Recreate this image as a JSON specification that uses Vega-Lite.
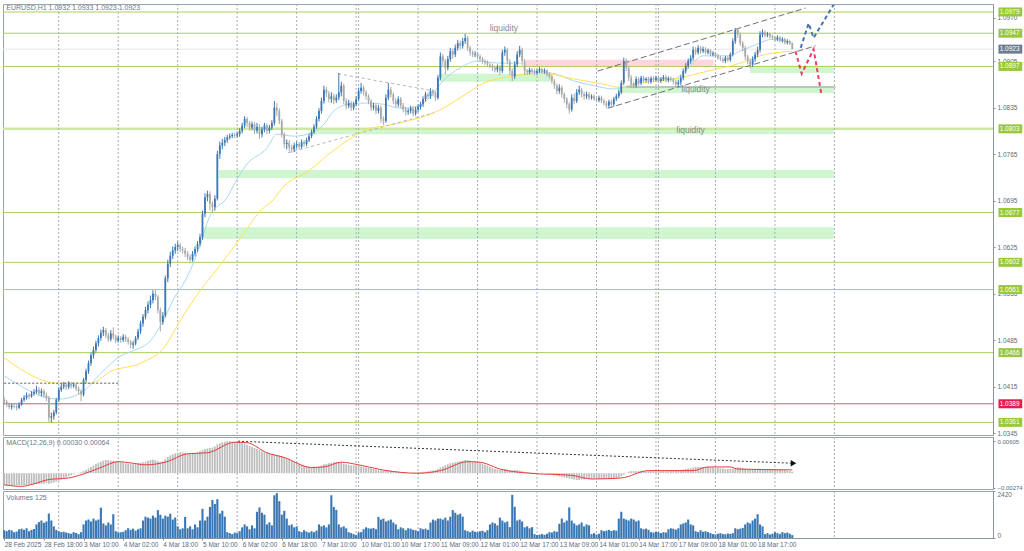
{
"$schema":"https://vega.github.io/schema/vega-lite/v6.json",
"padding":{"left":1,"top":0,"right":0,"bottom":0},
"background":"white",
"spacing":2,
"bounds":"flush",
"config":{"scale":{"continuousPadding":0},"view":{"stroke":"#9aa4ae","strokeWidth":1},"axis":{"labelFont":"Liberation Sans","labelFontSize":6.5,"labelColor":"#5b6b7c","domainColor":"#8a949e","tickColor":"#8a949e","tickSize":2,"grid":false,"labelPadding":2},"text":{"font":"Liberation Sans"}},
"datasets":{
"bars":[
{"i":0,"o":1.0395,"h":1.0399,"l":1.0388,"c":1.0392,"v":400,"m":-0.0023},
{"i":1,"o":1.0392,"h":1.0395,"l":1.0384,"c":1.0388,"v":350,"m":-0.0023},
{"i":2,"o":1.0388,"h":1.0391,"l":1.0381,"c":1.0384,"v":420,"m":-0.0023},
{"i":3,"o":1.0384,"h":1.0389,"l":1.0380,"c":1.0386,"v":380,"m":-0.0023},
{"i":4,"o":1.0386,"h":1.0390,"l":1.0382,"c":1.0385,"v":300,"m":-0.0023},
{"i":5,"o":1.0385,"h":1.0388,"l":1.0379,"c":1.0383,"v":330,"m":-0.0023},
{"i":6,"o":1.0383,"h":1.0391,"l":1.0381,"c":1.0388,"v":450,"m":-0.0023},
{"i":7,"o":1.0388,"h":1.0398,"l":1.0386,"c":1.0395,"v":480,"m":-0.0023},
{"i":8,"o":1.0395,"h":1.0402,"l":1.0392,"c":1.0398,"v":420,"m":-0.0023},
{"i":9,"o":1.0398,"h":1.0406,"l":1.0395,"c":1.0402,"v":500,"m":-0.0023},
{"i":10,"o":1.0402,"h":1.0405,"l":1.0396,"c":1.0400,"v":350,"m":-0.0022},
{"i":11,"o":1.0400,"h":1.0408,"l":1.0398,"c":1.0404,"v":420,"m":-0.0022},
{"i":12,"o":1.0404,"h":1.0411,"l":1.0401,"c":1.0407,"v":460,"m":-0.0021},
{"i":13,"o":1.0407,"h":1.0416,"l":1.0404,"c":1.0410,"v":700,"m":-0.0021},
{"i":14,"o":1.0410,"h":1.0414,"l":1.0401,"c":1.0405,"v":820,"m":-0.0020},
{"i":15,"o":1.0405,"h":1.0412,"l":1.0400,"c":1.0408,"v":900,"m":-0.0020},
{"i":16,"o":1.0408,"h":1.0411,"l":1.0398,"c":1.0402,"v":780,"m":-0.0020},
{"i":17,"o":1.0402,"h":1.0406,"l":1.0393,"c":1.0398,"v":850,"m":-0.0019},
{"i":18,"o":1.0398,"h":1.0401,"l":1.0362,"c":1.0368,"v":1260,"m":-0.0020},
{"i":19,"o":1.0368,"h":1.0376,"l":1.0361,"c":1.0370,"v":900,"m":-0.0019},
{"i":20,"o":1.0370,"h":1.0380,"l":1.0365,"c":1.0376,"v":600,"m":-0.0018},
{"i":21,"o":1.0376,"h":1.0398,"l":1.0373,"c":1.0395,"v":420,"m":-0.0016},
{"i":22,"o":1.0395,"h":1.0414,"l":1.0392,"c":1.0410,"v":350,"m":-0.0014},
{"i":23,"o":1.0410,"h":1.0419,"l":1.0407,"c":1.0415,"v":300,"m":-0.0012},
{"i":24,"o":1.0415,"h":1.0422,"l":1.0411,"c":1.0418,"v":320,"m":-0.0010},
{"i":25,"o":1.0418,"h":1.0421,"l":1.0410,"c":1.0414,"v":280,"m":-0.0008},
{"i":26,"o":1.0414,"h":1.0423,"l":1.0411,"c":1.0419,"v":250,"m":-0.0006},
{"i":27,"o":1.0419,"h":1.0422,"l":1.0412,"c":1.0416,"v":220,"m":-0.0004},
{"i":28,"o":1.0416,"h":1.0421,"l":1.0413,"c":1.0418,"v":300,"m":-0.0002},
{"i":29,"o":1.0418,"h":1.0420,"l":1.0408,"c":1.0412,"v":260,"m":0.0000},
{"i":30,"o":1.0412,"h":1.0415,"l":1.0403,"c":1.0408,"v":200,"m":0.0001},
{"i":31,"o":1.0408,"h":1.0411,"l":1.0393,"c":1.0403,"v":300,"m":0.0002},
{"i":32,"o":1.0403,"h":1.0428,"l":1.0400,"c":1.0425,"v":700,"m":0.0004},
{"i":33,"o":1.0425,"h":1.0442,"l":1.0421,"c":1.0438,"v":900,"m":0.0006},
{"i":34,"o":1.0438,"h":1.0454,"l":1.0434,"c":1.0450,"v":950,"m":0.0009},
{"i":35,"o":1.0450,"h":1.0466,"l":1.0446,"c":1.0462,"v":850,"m":0.0012},
{"i":36,"o":1.0462,"h":1.0475,"l":1.0457,"c":1.0470,"v":1000,"m":0.0015},
{"i":37,"o":1.0470,"h":1.0484,"l":1.0466,"c":1.0480,"v":900,"m":0.0018},
{"i":38,"o":1.0480,"h":1.0492,"l":1.0475,"c":1.0488,"v":950,"m":0.0020},
{"i":39,"o":1.0488,"h":1.0501,"l":1.0484,"c":1.0496,"v":1560,"m":0.0022},
{"i":40,"o":1.0496,"h":1.0505,"l":1.0491,"c":1.0500,"v":750,"m":0.0024},
{"i":41,"o":1.0500,"h":1.0503,"l":1.0488,"c":1.0492,"v":650,"m":0.0025},
{"i":42,"o":1.0492,"h":1.0496,"l":1.0482,"c":1.0486,"v":800,"m":0.0025},
{"i":43,"o":1.0486,"h":1.0500,"l":1.0483,"c":1.0495,"v":700,"m":0.0024},
{"i":44,"o":1.0495,"h":1.0504,"l":1.0486,"c":1.0490,"v":1225,"m":0.0024},
{"i":45,"o":1.0490,"h":1.0493,"l":1.0480,"c":1.0484,"v":350,"m":0.0023},
{"i":46,"o":1.0484,"h":1.0492,"l":1.0481,"c":1.0488,"v":280,"m":0.0022},
{"i":47,"o":1.0488,"h":1.0491,"l":1.0481,"c":1.0485,"v":300,"m":0.0021},
{"i":48,"o":1.0485,"h":1.0494,"l":1.0482,"c":1.0490,"v":320,"m":0.0020},
{"i":49,"o":1.0490,"h":1.0493,"l":1.0482,"c":1.0486,"v":400,"m":0.0019},
{"i":50,"o":1.0486,"h":1.0489,"l":1.0478,"c":1.0482,"v":500,"m":0.0018},
{"i":51,"o":1.0482,"h":1.0485,"l":1.0473,"c":1.0478,"v":420,"m":0.0018},
{"i":52,"o":1.0478,"h":1.0484,"l":1.0472,"c":1.0480,"v":480,"m":0.0017},
{"i":53,"o":1.0480,"h":1.0491,"l":1.0477,"c":1.0488,"v":380,"m":0.0018},
{"i":54,"o":1.0488,"h":1.0502,"l":1.0485,"c":1.0498,"v":450,"m":0.0019},
{"i":55,"o":1.0498,"h":1.0514,"l":1.0494,"c":1.0510,"v":500,"m":0.0020},
{"i":56,"o":1.0510,"h":1.0524,"l":1.0505,"c":1.0520,"v":900,"m":0.0021},
{"i":57,"o":1.0520,"h":1.0535,"l":1.0516,"c":1.0530,"v":1100,"m":0.0022},
{"i":58,"o":1.0530,"h":1.0543,"l":1.0525,"c":1.0538,"v":1050,"m":0.0024},
{"i":59,"o":1.0538,"h":1.0552,"l":1.0533,"c":1.0545,"v":1000,"m":0.0025},
{"i":60,"o":1.0545,"h":1.0560,"l":1.0540,"c":1.0555,"v":1150,"m":0.0026},
{"i":61,"o":1.0555,"h":1.0561,"l":1.0545,"c":1.0550,"v":1050,"m":0.0025},
{"i":62,"o":1.0550,"h":1.0553,"l":1.0525,"c":1.0530,"v":1435,"m":0.0023},
{"i":63,"o":1.0530,"h":1.0534,"l":1.0498,"c":1.0512,"v":1200,"m":0.0022},
{"i":64,"o":1.0512,"h":1.0527,"l":1.0508,"c":1.0522,"v":1000,"m":0.0023},
{"i":65,"o":1.0522,"h":1.0582,"l":1.0519,"c":1.0578,"v":1150,"m":0.0027},
{"i":66,"o":1.0578,"h":1.0606,"l":1.0572,"c":1.0600,"v":1100,"m":0.0031},
{"i":67,"o":1.0600,"h":1.0618,"l":1.0595,"c":1.0612,"v":1250,"m":0.0034},
{"i":68,"o":1.0612,"h":1.0626,"l":1.0607,"c":1.0620,"v":950,"m":0.0036},
{"i":69,"o":1.0620,"h":1.0630,"l":1.0615,"c":1.0625,"v":1050,"m":0.0038},
{"i":70,"o":1.0625,"h":1.0633,"l":1.0619,"c":1.0628,"v":600,"m":0.0039},
{"i":71,"o":1.0628,"h":1.0631,"l":1.0617,"c":1.0622,"v":450,"m":0.0040},
{"i":72,"o":1.0622,"h":1.0626,"l":1.0615,"c":1.0620,"v":500,"m":0.0040},
{"i":73,"o":1.0620,"h":1.0624,"l":1.0610,"c":1.0615,"v":1085,"m":0.0039},
{"i":74,"o":1.0615,"h":1.0619,"l":1.0605,"c":1.0610,"v":500,"m":0.0038},
{"i":75,"o":1.0610,"h":1.0614,"l":1.0602,"c":1.0606,"v":600,"m":0.0037},
{"i":76,"o":1.0606,"h":1.0619,"l":1.0603,"c":1.0615,"v":450,"m":0.0037},
{"i":77,"o":1.0615,"h":1.0626,"l":1.0611,"c":1.0622,"v":700,"m":0.0038},
{"i":78,"o":1.0622,"h":1.0634,"l":1.0618,"c":1.0630,"v":550,"m":0.0040},
{"i":79,"o":1.0630,"h":1.0645,"l":1.0626,"c":1.0640,"v":900,"m":0.0042},
{"i":80,"o":1.0640,"h":1.0680,"l":1.0636,"c":1.0675,"v":1500,"m":0.0044},
{"i":81,"o":1.0675,"h":1.0706,"l":1.0670,"c":1.0700,"v":900,"m":0.0046},
{"i":82,"o":1.0700,"h":1.0710,"l":1.0694,"c":1.0705,"v":1100,"m":0.0047},
{"i":83,"o":1.0705,"h":1.0709,"l":1.0680,"c":1.0690,"v":1600,"m":0.0048},
{"i":84,"o":1.0690,"h":1.0694,"l":1.0676,"c":1.0685,"v":1960,"m":0.0049},
{"i":85,"o":1.0685,"h":1.0703,"l":1.0680,"c":1.0698,"v":1750,"m":0.0051},
{"i":86,"o":1.0698,"h":1.0770,"l":1.0695,"c":1.0765,"v":2000,"m":0.0055},
{"i":87,"o":1.0765,"h":1.0784,"l":1.0758,"c":1.0778,"v":1260,"m":0.0057},
{"i":88,"o":1.0778,"h":1.0788,"l":1.0772,"c":1.0782,"v":1400,"m":0.0059},
{"i":89,"o":1.0782,"h":1.0791,"l":1.0777,"c":1.0786,"v":1100,"m":0.0060},
{"i":90,"o":1.0786,"h":1.0794,"l":1.0782,"c":1.0790,"v":300,"m":0.0061},
{"i":91,"o":1.0790,"h":1.0796,"l":1.0787,"c":1.0792,"v":250,"m":0.0061},
{"i":92,"o":1.0792,"h":1.0797,"l":1.0789,"c":1.0794,"v":200,"m":0.0060},
{"i":93,"o":1.0794,"h":1.0797,"l":1.0789,"c":1.0793,"v":280,"m":0.0060},
{"i":94,"o":1.0793,"h":1.0799,"l":1.0790,"c":1.0795,"v":250,"m":0.0059},
{"i":95,"o":1.0795,"h":1.0804,"l":1.0791,"c":1.0800,"v":350,"m":0.0058},
{"i":96,"o":1.0800,"h":1.0812,"l":1.0796,"c":1.0808,"v":550,"m":0.0057},
{"i":97,"o":1.0808,"h":1.0822,"l":1.0804,"c":1.0818,"v":700,"m":0.0056},
{"i":98,"o":1.0818,"h":1.0821,"l":1.0806,"c":1.0812,"v":600,"m":0.0054},
{"i":99,"o":1.0812,"h":1.0815,"l":1.0800,"c":1.0805,"v":450,"m":0.0052},
{"i":100,"o":1.0805,"h":1.0814,"l":1.0801,"c":1.0810,"v":650,"m":0.0050},
{"i":101,"o":1.0810,"h":1.0813,"l":1.0795,"c":1.0800,"v":500,"m":0.0048},
{"i":102,"o":1.0800,"h":1.0812,"l":1.0796,"c":1.0806,"v":1350,"m":0.0046},
{"i":103,"o":1.0806,"h":1.0810,"l":1.0788,"c":1.0795,"v":1575,"m":0.0044},
{"i":104,"o":1.0795,"h":1.0806,"l":1.0790,"c":1.0802,"v":1300,"m":0.0042},
{"i":105,"o":1.0802,"h":1.0812,"l":1.0798,"c":1.0808,"v":1200,"m":0.0040},
{"i":106,"o":1.0808,"h":1.0811,"l":1.0795,"c":1.0800,"v":700,"m":0.0038},
{"i":107,"o":1.0800,"h":1.0809,"l":1.0796,"c":1.0805,"v":800,"m":0.0037},
{"i":108,"o":1.0805,"h":1.0816,"l":1.0801,"c":1.0812,"v":650,"m":0.0036},
{"i":109,"o":1.0812,"h":1.0845,"l":1.0808,"c":1.0835,"v":2200,"m":0.0036},
{"i":110,"o":1.0835,"h":1.0842,"l":1.0822,"c":1.0830,"v":2310,"m":0.0035},
{"i":111,"o":1.0830,"h":1.0834,"l":1.0810,"c":1.0815,"v":1900,"m":0.0034},
{"i":112,"o":1.0815,"h":1.0818,"l":1.0790,"c":1.0795,"v":1200,"m":0.0032},
{"i":113,"o":1.0795,"h":1.0798,"l":1.0774,"c":1.0780,"v":1400,"m":0.0030},
{"i":114,"o":1.0780,"h":1.0787,"l":1.0772,"c":1.0782,"v":1000,"m":0.0028},
{"i":115,"o":1.0782,"h":1.0786,"l":1.0769,"c":1.0775,"v":650,"m":0.0026},
{"i":116,"o":1.0775,"h":1.0779,"l":1.0767,"c":1.0772,"v":700,"m":0.0024},
{"i":117,"o":1.0772,"h":1.0782,"l":1.0768,"c":1.0778,"v":550,"m":0.0022},
{"i":118,"o":1.0778,"h":1.0784,"l":1.0774,"c":1.0780,"v":600,"m":0.0020},
{"i":119,"o":1.0780,"h":1.0783,"l":1.0772,"c":1.0776,"v":350,"m":0.0018},
{"i":120,"o":1.0776,"h":1.0787,"l":1.0773,"c":1.0783,"v":300,"m":0.0016},
{"i":121,"o":1.0783,"h":1.0786,"l":1.0776,"c":1.0780,"v":400,"m":0.0014},
{"i":122,"o":1.0780,"h":1.0790,"l":1.0777,"c":1.0786,"v":330,"m":0.0013},
{"i":123,"o":1.0786,"h":1.0796,"l":1.0783,"c":1.0792,"v":280,"m":0.0012},
{"i":124,"o":1.0792,"h":1.0802,"l":1.0789,"c":1.0798,"v":350,"m":0.0011},
{"i":125,"o":1.0798,"h":1.0810,"l":1.0795,"c":1.0806,"v":300,"m":0.0011},
{"i":126,"o":1.0806,"h":1.0822,"l":1.0803,"c":1.0818,"v":380,"m":0.0012},
{"i":127,"o":1.0818,"h":1.0834,"l":1.0814,"c":1.0830,"v":700,"m":0.0013},
{"i":128,"o":1.0830,"h":1.0850,"l":1.0826,"c":1.0845,"v":600,"m":0.0015},
{"i":129,"o":1.0845,"h":1.0868,"l":1.0841,"c":1.0862,"v":650,"m":0.0017},
{"i":130,"o":1.0862,"h":1.0866,"l":1.0851,"c":1.0856,"v":550,"m":0.0018},
{"i":131,"o":1.0856,"h":1.0860,"l":1.0843,"c":1.0848,"v":700,"m":0.0019},
{"i":132,"o":1.0848,"h":1.0858,"l":1.0842,"c":1.0852,"v":2200,"m":0.0020},
{"i":133,"o":1.0852,"h":1.0856,"l":1.0840,"c":1.0846,"v":1600,"m":0.0021},
{"i":134,"o":1.0846,"h":1.0855,"l":1.0842,"c":1.0850,"v":1450,"m":0.0021},
{"i":135,"o":1.0850,"h":1.0887,"l":1.0846,"c":1.0858,"v":700,"m":0.0020},
{"i":136,"o":1.0858,"h":1.0874,"l":1.0852,"c":1.0868,"v":550,"m":0.0020},
{"i":137,"o":1.0868,"h":1.0871,"l":1.0840,"c":1.0845,"v":600,"m":0.0018},
{"i":138,"o":1.0845,"h":1.0849,"l":1.0832,"c":1.0838,"v":500,"m":0.0017},
{"i":139,"o":1.0838,"h":1.0847,"l":1.0834,"c":1.0842,"v":300,"m":0.0016},
{"i":140,"o":1.0842,"h":1.0845,"l":1.0830,"c":1.0835,"v":250,"m":0.0015},
{"i":141,"o":1.0835,"h":1.0844,"l":1.0831,"c":1.0840,"v":200,"m":0.0015},
{"i":142,"o":1.0840,"h":1.0852,"l":1.0837,"c":1.0848,"v":150,"m":0.0014},
{"i":143,"o":1.0848,"h":1.0865,"l":1.0845,"c":1.0860,"v":280,"m":0.0014},
{"i":144,"o":1.0860,"h":1.0872,"l":1.0856,"c":1.0865,"v":300,"m":0.0013},
{"i":145,"o":1.0865,"h":1.0868,"l":1.0853,"c":1.0858,"v":450,"m":0.0012},
{"i":146,"o":1.0858,"h":1.0861,"l":1.0847,"c":1.0852,"v":550,"m":0.0011},
{"i":147,"o":1.0852,"h":1.0855,"l":1.0840,"c":1.0845,"v":500,"m":0.0010},
{"i":148,"o":1.0845,"h":1.0848,"l":1.0830,"c":1.0835,"v":480,"m":0.0009},
{"i":149,"o":1.0835,"h":1.0842,"l":1.0831,"c":1.0838,"v":520,"m":0.0008},
{"i":150,"o":1.0838,"h":1.0841,"l":1.0825,"c":1.0830,"v":450,"m":0.0007},
{"i":151,"o":1.0830,"h":1.0839,"l":1.0826,"c":1.0835,"v":1085,"m":0.0006},
{"i":152,"o":1.0835,"h":1.0838,"l":1.0812,"c":1.0818,"v":950,"m":0.0005},
{"i":153,"o":1.0818,"h":1.0822,"l":1.0809,"c":1.0815,"v":1000,"m":0.0005},
{"i":154,"o":1.0815,"h":1.0855,"l":1.0812,"c":1.0850,"v":850,"m":0.0006},
{"i":155,"o":1.0850,"h":1.0872,"l":1.0846,"c":1.0862,"v":900,"m":0.0006},
{"i":156,"o":1.0862,"h":1.0866,"l":1.0850,"c":1.0855,"v":950,"m":0.0005},
{"i":157,"o":1.0855,"h":1.0858,"l":1.0840,"c":1.0845,"v":800,"m":0.0004},
{"i":158,"o":1.0845,"h":1.0849,"l":1.0835,"c":1.0840,"v":700,"m":0.0003},
{"i":159,"o":1.0840,"h":1.0852,"l":1.0836,"c":1.0848,"v":450,"m":0.0003},
{"i":160,"o":1.0848,"h":1.0851,"l":1.0834,"c":1.0838,"v":550,"m":0.0002},
{"i":161,"o":1.0838,"h":1.0842,"l":1.0828,"c":1.0832,"v":500,"m":0.0001},
{"i":162,"o":1.0832,"h":1.0836,"l":1.0823,"c":1.0828,"v":400,"m":0.0001},
{"i":163,"o":1.0828,"h":1.0834,"l":1.0824,"c":1.0830,"v":500,"m":0.0000},
{"i":164,"o":1.0830,"h":1.0838,"l":1.0826,"c":1.0834,"v":480,"m":0.0000},
{"i":165,"o":1.0834,"h":1.0837,"l":1.0822,"c":1.0826,"v":420,"m":0.0001},
{"i":166,"o":1.0826,"h":1.0836,"l":1.0823,"c":1.0832,"v":400,"m":0.0001},
{"i":167,"o":1.0832,"h":1.0840,"l":1.0828,"c":1.0836,"v":350,"m":0.0002},
{"i":168,"o":1.0836,"h":1.0844,"l":1.0832,"c":1.0840,"v":500,"m":0.0002},
{"i":169,"o":1.0840,"h":1.0852,"l":1.0836,"c":1.0848,"v":450,"m":0.0003},
{"i":170,"o":1.0848,"h":1.0859,"l":1.0844,"c":1.0855,"v":480,"m":0.0003},
{"i":171,"o":1.0855,"h":1.0858,"l":1.0848,"c":1.0852,"v":420,"m":0.0004},
{"i":172,"o":1.0852,"h":1.0864,"l":1.0848,"c":1.0860,"v":800,"m":0.0005},
{"i":173,"o":1.0860,"h":1.0863,"l":1.0852,"c":1.0857,"v":950,"m":0.0005},
{"i":174,"o":1.0857,"h":1.0860,"l":1.0845,"c":1.0850,"v":900,"m":0.0006},
{"i":175,"o":1.0850,"h":1.0884,"l":1.0847,"c":1.0880,"v":1000,"m":0.0008},
{"i":176,"o":1.0880,"h":1.0918,"l":1.0876,"c":1.0912,"v":1000,"m":0.0011},
{"i":177,"o":1.0912,"h":1.0916,"l":1.0898,"c":1.0905,"v":950,"m":0.0013},
{"i":178,"o":1.0905,"h":1.0908,"l":1.0885,"c":1.0895,"v":1050,"m":0.0015},
{"i":179,"o":1.0895,"h":1.0913,"l":1.0891,"c":1.0908,"v":900,"m":0.0017},
{"i":180,"o":1.0908,"h":1.0925,"l":1.0904,"c":1.0920,"v":1100,"m":0.0019},
{"i":181,"o":1.0920,"h":1.0924,"l":1.0909,"c":1.0915,"v":1435,"m":0.0020},
{"i":182,"o":1.0915,"h":1.0930,"l":1.0911,"c":1.0925,"v":1300,"m":0.0021},
{"i":183,"o":1.0925,"h":1.0937,"l":1.0921,"c":1.0932,"v":1200,"m":0.0022},
{"i":184,"o":1.0932,"h":1.0936,"l":1.0923,"c":1.0928,"v":1250,"m":0.0023},
{"i":185,"o":1.0928,"h":1.0940,"l":1.0924,"c":1.0935,"v":1100,"m":0.0024},
{"i":186,"o":1.0935,"h":1.0946,"l":1.0931,"c":1.0940,"v":400,"m":0.0025},
{"i":187,"o":1.0940,"h":1.0943,"l":1.0920,"c":1.0925,"v":350,"m":0.0025},
{"i":188,"o":1.0925,"h":1.0928,"l":1.0913,"c":1.0918,"v":300,"m":0.0024},
{"i":189,"o":1.0918,"h":1.0921,"l":1.0911,"c":1.0915,"v":380,"m":0.0023},
{"i":190,"o":1.0915,"h":1.0920,"l":1.0911,"c":1.0916,"v":320,"m":0.0022},
{"i":191,"o":1.0916,"h":1.0919,"l":1.0908,"c":1.0912,"v":300,"m":0.0021},
{"i":192,"o":1.0912,"h":1.0915,"l":1.0904,"c":1.0908,"v":350,"m":0.0020},
{"i":193,"o":1.0908,"h":1.0911,"l":1.0901,"c":1.0905,"v":380,"m":0.0018},
{"i":194,"o":1.0905,"h":1.0908,"l":1.0899,"c":1.0903,"v":300,"m":0.0016},
{"i":195,"o":1.0903,"h":1.0906,"l":1.0896,"c":1.0900,"v":400,"m":0.0014},
{"i":196,"o":1.0900,"h":1.0903,"l":1.0894,"c":1.0898,"v":700,"m":0.0012},
{"i":197,"o":1.0898,"h":1.0901,"l":1.0890,"c":1.0895,"v":800,"m":0.0010},
{"i":198,"o":1.0895,"h":1.0898,"l":1.0888,"c":1.0892,"v":750,"m":0.0008},
{"i":199,"o":1.0892,"h":1.0900,"l":1.0888,"c":1.0896,"v":650,"m":0.0007},
{"i":200,"o":1.0896,"h":1.0899,"l":1.0884,"c":1.0890,"v":1050,"m":0.0006},
{"i":201,"o":1.0890,"h":1.0922,"l":1.0887,"c":1.0918,"v":900,"m":0.0007},
{"i":202,"o":1.0918,"h":1.0927,"l":1.0913,"c":1.0922,"v":800,"m":0.0008},
{"i":203,"o":1.0922,"h":1.0925,"l":1.0900,"c":1.0905,"v":850,"m":0.0007},
{"i":204,"o":1.0905,"h":1.0908,"l":1.0884,"c":1.0890,"v":560,"m":0.0006},
{"i":205,"o":1.0890,"h":1.0894,"l":1.0875,"c":1.0882,"v":2220,"m":0.0005},
{"i":206,"o":1.0882,"h":1.0905,"l":1.0878,"c":1.0900,"v":1610,"m":0.0006},
{"i":207,"o":1.0900,"h":1.0920,"l":1.0896,"c":1.0915,"v":900,"m":0.0006},
{"i":208,"o":1.0915,"h":1.0928,"l":1.0911,"c":1.0922,"v":950,"m":0.0005},
{"i":209,"o":1.0922,"h":1.0925,"l":1.0900,"c":1.0905,"v":850,"m":0.0004},
{"i":210,"o":1.0905,"h":1.0908,"l":1.0884,"c":1.0890,"v":550,"m":0.0003},
{"i":211,"o":1.0890,"h":1.0893,"l":1.0884,"c":1.0888,"v":600,"m":0.0002},
{"i":212,"o":1.0888,"h":1.0895,"l":1.0885,"c":1.0892,"v":500,"m":0.0002},
{"i":213,"o":1.0892,"h":1.0894,"l":1.0886,"c":1.0890,"v":560,"m":0.0001},
{"i":214,"o":1.0890,"h":1.0893,"l":1.0884,"c":1.0887,"v":200,"m":0.0001},
{"i":215,"o":1.0887,"h":1.0893,"l":1.0884,"c":1.0890,"v":150,"m":0.0000},
{"i":216,"o":1.0890,"h":1.0896,"l":1.0887,"c":1.0893,"v":180,"m":0.0000},
{"i":217,"o":1.0893,"h":1.0895,"l":1.0886,"c":1.0889,"v":200,"m":0.0001},
{"i":218,"o":1.0889,"h":1.0894,"l":1.0886,"c":1.0891,"v":160,"m":0.0000},
{"i":219,"o":1.0891,"h":1.0893,"l":1.0882,"c":1.0885,"v":220,"m":-0.0001},
{"i":220,"o":1.0885,"h":1.0888,"l":1.0878,"c":1.0882,"v":300,"m":-0.0002},
{"i":221,"o":1.0882,"h":1.0885,"l":1.0871,"c":1.0875,"v":280,"m":-0.0003},
{"i":222,"o":1.0875,"h":1.0878,"l":1.0863,"c":1.0868,"v":350,"m":-0.0004},
{"i":223,"o":1.0868,"h":1.0871,"l":1.0855,"c":1.0860,"v":320,"m":-0.0005},
{"i":224,"o":1.0860,"h":1.0870,"l":1.0856,"c":1.0865,"v":735,"m":-0.0006},
{"i":225,"o":1.0865,"h":1.0868,"l":1.0850,"c":1.0855,"v":1000,"m":-0.0007},
{"i":226,"o":1.0855,"h":1.0858,"l":1.0842,"c":1.0848,"v":800,"m":-0.0008},
{"i":227,"o":1.0848,"h":1.0851,"l":1.0834,"c":1.0840,"v":900,"m":-0.0009},
{"i":228,"o":1.0840,"h":1.0843,"l":1.0826,"c":1.0832,"v":1575,"m":-0.0010},
{"i":229,"o":1.0832,"h":1.0855,"l":1.0829,"c":1.0850,"v":900,"m":-0.0011},
{"i":230,"o":1.0850,"h":1.0856,"l":1.0840,"c":1.0845,"v":750,"m":-0.0012},
{"i":231,"o":1.0845,"h":1.0863,"l":1.0842,"c":1.0858,"v":650,"m":-0.0013},
{"i":232,"o":1.0858,"h":1.0868,"l":1.0854,"c":1.0862,"v":700,"m":-0.0013},
{"i":233,"o":1.0862,"h":1.0865,"l":1.0850,"c":1.0855,"v":800,"m":-0.0012},
{"i":234,"o":1.0855,"h":1.0859,"l":1.0847,"c":1.0852,"v":600,"m":-0.0012},
{"i":235,"o":1.0852,"h":1.0859,"l":1.0848,"c":1.0855,"v":700,"m":-0.0011},
{"i":236,"o":1.0855,"h":1.0858,"l":1.0846,"c":1.0850,"v":650,"m":-0.0011},
{"i":237,"o":1.0850,"h":1.0855,"l":1.0847,"c":1.0852,"v":200,"m":-0.0011},
{"i":238,"o":1.0852,"h":1.0855,"l":1.0845,"c":1.0848,"v":250,"m":-0.0010},
{"i":239,"o":1.0848,"h":1.0851,"l":1.0843,"c":1.0846,"v":180,"m":-0.0010},
{"i":240,"o":1.0846,"h":1.0853,"l":1.0843,"c":1.0850,"v":220,"m":-0.0011},
{"i":241,"o":1.0850,"h":1.0853,"l":1.0842,"c":1.0845,"v":400,"m":-0.0011},
{"i":242,"o":1.0845,"h":1.0848,"l":1.0838,"c":1.0842,"v":350,"m":-0.0011},
{"i":243,"o":1.0842,"h":1.0845,"l":1.0834,"c":1.0838,"v":380,"m":-0.0011},
{"i":244,"o":1.0838,"h":1.0847,"l":1.0835,"c":1.0844,"v":420,"m":-0.0010},
{"i":245,"o":1.0844,"h":1.0847,"l":1.0836,"c":1.0840,"v":360,"m":-0.0010},
{"i":246,"o":1.0840,"h":1.0851,"l":1.0837,"c":1.0848,"v":400,"m":-0.0010},
{"i":247,"o":1.0848,"h":1.0856,"l":1.0845,"c":1.0852,"v":380,"m":-0.0009},
{"i":248,"o":1.0852,"h":1.0862,"l":1.0849,"c":1.0858,"v":1000,"m":-0.0008},
{"i":249,"o":1.0858,"h":1.0876,"l":1.0855,"c":1.0872,"v":1350,"m":-0.0006},
{"i":250,"o":1.0872,"h":1.0910,"l":1.0869,"c":1.0905,"v":1000,"m":-0.0003},
{"i":251,"o":1.0905,"h":1.0909,"l":1.0890,"c":1.0895,"v":950,"m":0.0001},
{"i":252,"o":1.0895,"h":1.0898,"l":1.0875,"c":1.0880,"v":900,"m":0.0003},
{"i":253,"o":1.0880,"h":1.0884,"l":1.0865,"c":1.0870,"v":1000,"m":0.0004},
{"i":254,"o":1.0870,"h":1.0874,"l":1.0864,"c":1.0868,"v":950,"m":0.0004},
{"i":255,"o":1.0868,"h":1.0882,"l":1.0865,"c":1.0878,"v":850,"m":0.0004},
{"i":256,"o":1.0878,"h":1.0881,"l":1.0868,"c":1.0872,"v":900,"m":0.0004},
{"i":257,"o":1.0872,"h":1.0883,"l":1.0869,"c":1.0880,"v":500,"m":0.0004},
{"i":258,"o":1.0880,"h":1.0883,"l":1.0873,"c":1.0876,"v":450,"m":0.0004},
{"i":259,"o":1.0876,"h":1.0881,"l":1.0873,"c":1.0878,"v":480,"m":0.0004},
{"i":260,"o":1.0878,"h":1.0881,"l":1.0871,"c":1.0874,"v":420,"m":0.0004},
{"i":261,"o":1.0874,"h":1.0882,"l":1.0871,"c":1.0879,"v":300,"m":0.0004},
{"i":262,"o":1.0879,"h":1.0882,"l":1.0874,"c":1.0877,"v":280,"m":0.0004},
{"i":263,"o":1.0877,"h":1.0883,"l":1.0874,"c":1.0880,"v":320,"m":0.0004},
{"i":264,"o":1.0880,"h":1.0883,"l":1.0872,"c":1.0875,"v":300,"m":0.0004},
{"i":265,"o":1.0875,"h":1.0881,"l":1.0872,"c":1.0878,"v":250,"m":0.0004},
{"i":266,"o":1.0878,"h":1.0884,"l":1.0875,"c":1.0881,"v":300,"m":0.0004},
{"i":267,"o":1.0881,"h":1.0884,"l":1.0873,"c":1.0876,"v":280,"m":0.0004},
{"i":268,"o":1.0876,"h":1.0882,"l":1.0873,"c":1.0879,"v":450,"m":0.0005},
{"i":269,"o":1.0879,"h":1.0882,"l":1.0874,"c":1.0877,"v":500,"m":0.0005},
{"i":270,"o":1.0877,"h":1.0880,"l":1.0870,"c":1.0874,"v":480,"m":0.0005},
{"i":271,"o":1.0874,"h":1.0877,"l":1.0866,"c":1.0870,"v":430,"m":0.0005},
{"i":272,"o":1.0870,"h":1.0877,"l":1.0866,"c":1.0873,"v":500,"m":0.0005},
{"i":273,"o":1.0873,"h":1.0884,"l":1.0869,"c":1.0880,"v":700,"m":0.0006},
{"i":274,"o":1.0880,"h":1.0894,"l":1.0876,"c":1.0890,"v":750,"m":0.0007},
{"i":275,"o":1.0890,"h":1.0902,"l":1.0886,"c":1.0898,"v":800,"m":0.0008},
{"i":276,"o":1.0898,"h":1.0909,"l":1.0894,"c":1.0905,"v":950,"m":0.0009},
{"i":277,"o":1.0905,"h":1.0914,"l":1.0901,"c":1.0910,"v":700,"m":0.0010},
{"i":278,"o":1.0910,"h":1.0927,"l":1.0906,"c":1.0922,"v":650,"m":0.0011},
{"i":279,"o":1.0922,"h":1.0926,"l":1.0914,"c":1.0918,"v":350,"m":0.0012},
{"i":280,"o":1.0918,"h":1.0929,"l":1.0915,"c":1.0925,"v":300,"m":0.0012},
{"i":281,"o":1.0925,"h":1.0928,"l":1.0916,"c":1.0920,"v":400,"m":0.0012},
{"i":282,"o":1.0920,"h":1.0927,"l":1.0917,"c":1.0923,"v":320,"m":0.0012},
{"i":283,"o":1.0923,"h":1.0926,"l":1.0915,"c":1.0918,"v":350,"m":0.0012},
{"i":284,"o":1.0918,"h":1.0924,"l":1.0915,"c":1.0921,"v":300,"m":0.0012},
{"i":285,"o":1.0921,"h":1.0923,"l":1.0912,"c":1.0915,"v":250,"m":0.0011},
{"i":286,"o":1.0915,"h":1.0920,"l":1.0912,"c":1.0917,"v":200,"m":0.0011},
{"i":287,"o":1.0917,"h":1.0919,"l":1.0910,"c":1.0913,"v":180,"m":0.0010},
{"i":288,"o":1.0913,"h":1.0916,"l":1.0907,"c":1.0910,"v":220,"m":0.0010},
{"i":289,"o":1.0910,"h":1.0913,"l":1.0905,"c":1.0908,"v":250,"m":0.0009},
{"i":290,"o":1.0908,"h":1.0911,"l":1.0902,"c":1.0905,"v":200,"m":0.0009},
{"i":291,"o":1.0905,"h":1.0913,"l":1.0902,"c":1.0910,"v":190,"m":0.0008},
{"i":292,"o":1.0910,"h":1.0913,"l":1.0904,"c":1.0907,"v":230,"m":0.0008},
{"i":293,"o":1.0907,"h":1.0918,"l":1.0904,"c":1.0915,"v":210,"m":0.0008},
{"i":294,"o":1.0915,"h":1.0939,"l":1.0912,"c":1.0935,"v":250,"m":0.0009},
{"i":295,"o":1.0935,"h":1.0955,"l":1.0931,"c":1.0952,"v":500,"m":0.0010},
{"i":296,"o":1.0952,"h":1.0954,"l":1.0940,"c":1.0945,"v":450,"m":0.0011},
{"i":297,"o":1.0945,"h":1.0948,"l":1.0928,"c":1.0932,"v":480,"m":0.0011},
{"i":298,"o":1.0932,"h":1.0935,"l":1.0920,"c":1.0925,"v":520,"m":0.0010},
{"i":299,"o":1.0925,"h":1.0928,"l":1.0907,"c":1.0912,"v":700,"m":0.0009},
{"i":300,"o":1.0912,"h":1.0915,"l":1.0900,"c":1.0905,"v":800,"m":0.0008},
{"i":301,"o":1.0905,"h":1.0908,"l":1.0894,"c":1.0900,"v":750,"m":0.0007},
{"i":302,"o":1.0900,"h":1.0912,"l":1.0896,"c":1.0908,"v":900,"m":0.0007},
{"i":303,"o":1.0908,"h":1.0919,"l":1.0904,"c":1.0915,"v":1000,"m":0.0007},
{"i":304,"o":1.0915,"h":1.0927,"l":1.0911,"c":1.0922,"v":1225,"m":0.0007},
{"i":305,"o":1.0922,"h":1.0950,"l":1.0918,"c":1.0945,"v":700,"m":0.0008},
{"i":306,"o":1.0945,"h":1.0953,"l":1.0941,"c":1.0948,"v":600,"m":0.0008},
{"i":307,"o":1.0948,"h":1.0951,"l":1.0940,"c":1.0944,"v":200,"m":0.0008},
{"i":308,"o":1.0944,"h":1.0949,"l":1.0941,"c":1.0946,"v":250,"m":0.0008},
{"i":309,"o":1.0946,"h":1.0948,"l":1.0939,"c":1.0942,"v":180,"m":0.0008},
{"i":310,"o":1.0942,"h":1.0945,"l":1.0937,"c":1.0940,"v":220,"m":0.0007},
{"i":311,"o":1.0940,"h":1.0943,"l":1.0935,"c":1.0938,"v":300,"m":0.0007},
{"i":312,"o":1.0938,"h":1.0944,"l":1.0935,"c":1.0941,"v":250,"m":0.0007},
{"i":313,"o":1.0941,"h":1.0943,"l":1.0933,"c":1.0936,"v":200,"m":0.0007},
{"i":314,"o":1.0936,"h":1.0941,"l":1.0933,"c":1.0938,"v":300,"m":0.0006},
{"i":315,"o":1.0938,"h":1.0940,"l":1.0930,"c":1.0933,"v":250,"m":0.0006},
{"i":316,"o":1.0933,"h":1.0938,"l":1.0930,"c":1.0935,"v":280,"m":0.0005},
{"i":317,"o":1.0935,"h":1.0937,"l":1.0929,"c":1.0932,"v":220,"m":0.0004},
{"i":318,"o":1.0932,"h":1.0933,"l":1.0923,"c":1.0923,"v":150,"m":0.0003}
],
"fma":[{"i":0,"p":1.0431},{"i":22,"p":1.0396},{"i":32,"p":1.0408},{"i":39,"p":1.0435},{"i":47,"p":1.0461},{"i":52,"p":1.0469},{"i":59,"p":1.0484},{"i":63,"p":1.0506},{"i":69,"p":1.0551},{"i":73,"p":1.0574},{"i":79,"p":1.0627},{"i":83,"p":1.0672},{"i":90,"p":1.0700},{"i":93,"p":1.0721},{"i":98,"p":1.0750},{"i":106,"p":1.0774},{"i":110,"p":1.0795},{"i":117,"p":1.0792},{"i":124,"p":1.0797},{"i":129,"p":1.0810},{"i":133,"p":1.0830},{"i":139,"p":1.0840},{"i":147,"p":1.0842},{"i":153,"p":1.0840},{"i":160,"p":1.0834},{"i":167,"p":1.0837},{"i":173,"p":1.0856},{"i":177,"p":1.0875},{"i":184,"p":1.0895},{"i":191,"p":1.0905},{"i":200,"p":1.0902},{"i":208,"p":1.0902},{"i":211,"p":1.0890},{"i":221,"p":1.0887},{"i":230,"p":1.0875},{"i":238,"p":1.0868},{"i":246,"p":1.0863},{"i":252,"p":1.0868},{"i":260,"p":1.0878},{"i":270,"p":1.0878},{"i":276,"p":1.0895},{"i":282,"p":1.0913},{"i":292,"p":1.0913},{"i":297,"p":1.0920},{"i":304,"p":1.0931},{"i":310,"p":1.0938},{"i":318,"p":1.0932}],
"sma":[{"i":0,"p":1.0458},{"i":22,"p":1.0420},{"i":35,"p":1.0420},{"i":43,"p":1.0438},{"i":55,"p":1.0450},{"i":65,"p":1.0476},{"i":71,"p":1.0514},{"i":79,"p":1.0559},{"i":87,"p":1.0597},{"i":96,"p":1.0642},{"i":104,"p":1.0682},{"i":108,"p":1.0694},{"i":113,"p":1.0717},{"i":123,"p":1.0740},{"i":131,"p":1.0765},{"i":140,"p":1.0789},{"i":147,"p":1.0803},{"i":153,"p":1.0807},{"i":167,"p":1.0819},{"i":175,"p":1.0830},{"i":187,"p":1.0857},{"i":193,"p":1.0871},{"i":203,"p":1.0881},{"i":217,"p":1.0887},{"i":230,"p":1.0878},{"i":241,"p":1.0871},{"i":249,"p":1.0865},{"i":257,"p":1.0872},{"i":270,"p":1.0878},{"i":284,"p":1.0890},{"i":297,"p":1.0902},{"i":305,"p":1.0913},{"i":318,"p":1.0920}],
"sig":[{"i":0,"s":-0.0022},{"i":7,"s":-0.0025},{"i":12,"s":-0.0020},{"i":18,"s":-0.0012},{"i":26,"s":-0.0009},{"i":34,"s":0.0002},{"i":39,"s":0.0011},{"i":46,"s":0.0022},{"i":52,"s":0.0019},{"i":57,"s":0.0016},{"i":65,"s":0.0021},{"i":74,"s":0.0037},{"i":82,"s":0.0039},{"i":93,"s":0.0059},{"i":98,"s":0.0058},{"i":106,"s":0.0039},{"i":113,"s":0.0030},{"i":124,"s":0.0011},{"i":129,"s":0.0012},{"i":136,"s":0.0021},{"i":143,"s":0.0016},{"i":153,"s":0.0006},{"i":167,"s":0.0000},{"i":176,"s":0.0005},{"i":187,"s":0.0022},{"i":192,"s":0.0021},{"i":200,"s":0.0008},{"i":212,"s":0.0000},{"i":229,"s":-0.0004},{"i":237,"s":-0.0011},{"i":249,"s":-0.0009},{"i":260,"s":0.0005},{"i":278,"s":0.0005},{"i":284,"s":0.0012},{"i":293,"s":0.0012},{"i":296,"s":0.0008},{"i":318,"s":0.00064}],
"marrow":[{"i":94.4,"s":0.0061},{"i":318.5,"s":0.0019}],
"zones":[{"a":175.4,"b":220.6,"p1":1.0886,"p2":1.0874,"k":"g"},{"a":301,"b":334.7,"p1":1.0897,"p2":1.0887,"k":"g"},{"a":210.5,"b":286.3,"p1":1.0907,"p2":1.0897,"k":"pink"},{"a":247.6,"b":334.7,"p1":1.0867,"p2":1.0857,"k":"g"},{"a":123.8,"b":334.7,"p1":1.0804,"p2":1.0795,"k":"g"},{"a":86.7,"b":334.7,"p1":1.0741,"p2":1.0729,"k":"g"},{"a":79.4,"b":334.7,"p1":1.0655,"p2":1.0637,"k":"g"}],
"levels":[{"p":1.0979,"k":"g"},{"p":1.0947,"k":"g"},{"p":1.0923,"k":"cur"},{"p":1.0897,"k":"g"},{"p":1.0803,"k":"g2"},{"p":1.0677,"k":"g"},{"p":1.0602,"k":"g"},{"p":1.0561,"k":"g"},{"p":1.0466,"k":"g"},{"p":1.0389,"k":"r"},{"p":1.0361,"k":"g"}],
"seps":[{"i":22},{"i":46},{"i":70},{"i":94},{"i":118},{"i":142},{"i":143},{"i":167},{"i":191},{"i":215},{"i":239},{"i":263},{"i":264},{"i":287},{"i":311},{"i":335}],
"ann":[{"g":"w","s":1,"i":134.7,"p":1.0886},{"g":"w","s":1,"i":173.4,"p":1.0860},{"g":"w","s":2,"i":114.5,"p":1.0767},{"g":"w","s":2,"i":173.4,"p":1.0827},{"g":"c","s":3,"i":239.5,"p":1.0890},{"g":"c","s":3,"i":323.4,"p":1.0985},{"g":"c","s":4,"i":243.5,"p":1.0834},{"g":"c","s":4,"i":327.4,"p":1.0928},{"g":"h","s":5,"i":0,"p":1.0420},{"g":"h","s":5,"i":46,"p":1.0420},{"g":"l","s":6,"i":251,"p":1.0866},{"g":"l","s":6,"i":335.5,"p":1.0866},{"g":"b","s":7,"i":321.4,"p":1.0925},{"g":"b","s":7,"i":324.6,"p":1.0962},{"g":"b","s":7,"i":326.6,"p":1.0940},{"g":"b","s":7,"i":334.7,"p":1.0990},{"g":"r","s":8,"i":319.3,"p":1.0920},{"g":"r","s":8,"i":321.8,"p":1.0886},{"g":"r","s":8,"i":326.6,"p":1.0923},{"g":"r","s":8,"i":329.8,"p":1.0854}],
"liq":[{"i":201.6,"p":1.0955,"t":"liquidity"},{"i":279,"p":1.0863,"t":"liquidity"},{"i":277,"p":1.0801,"t":"liquidity"}]
},
"vconcat":[
{"width":990,"height":431,
"layer":[
{"data":{"name":"zones"},"mark":{"type":"rect"},"encoding":{
"x":{"field":"a","type":"quantitative","scale":{"domain":[-0.5,399],"nice":false,"zero":false,"padding":0},"axis":null,"title":null},
"x2":{"field":"b"},
"y":{"field":"p1","type":"quantitative","scale":{"domain":[1.0342,1.0991],"nice":false,"zero":false,"padding":0},"title":null,"axis":{"orient":"right","values":[1.0345,1.0380,1.0415,1.0450,1.0485,1.0520,1.0555,1.0590,1.0625,1.0660,1.0695,1.0730,1.0765,1.0800,1.0835,1.0870,1.0905,1.0935,1.0970],"format":".4f"}},
"y2":{"field":"p2"},
"color":{"condition":{"test":"datum.k=='pink'","value":"#ffd6de"},"value":"#d0f6d0"}}},
{"data":{"name":"levels"},"mark":{"type":"rule"},"encoding":{
"y":{"field":"p","type":"quantitative","title":null},
"color":{"condition":[{"test":"datum.k=='r'","value":"#e8506e"},{"test":"datum.k=='cur'","value":"#e2e6ec"},{"test":"datum.k=='g2'","value":"#cce8a4"}],"value":"#a8d05c"},
"strokeWidth":{"condition":{"test":"datum.k=='g2'","value":2.5},"value":1}}},
{"data":{"name":"seps"},"mark":{"type":"rule","strokeDash":[2,2],"color":"#a6adb5","strokeWidth":1},"encoding":{"x":{"field":"i","type":"quantitative","axis":null,"title":null}}},
{"data":{"name":"fma"},"mark":{"type":"line","color":"#a9d9f2","strokeWidth":1,"interpolate":"monotone"},"encoding":{"x":{"field":"i","type":"quantitative","axis":null,"title":null},"y":{"field":"p","type":"quantitative","title":null}}},
{"data":{"name":"sma"},"mark":{"type":"line","color":"#ffe05a","strokeWidth":1,"interpolate":"monotone"},"encoding":{"x":{"field":"i","type":"quantitative","axis":null,"title":null},"y":{"field":"p","type":"quantitative","title":null}}},
{"data":{"name":"ann"},"transform":[{"filter":"datum.g=='w'"}],"mark":{"type":"line","color":"#b4b4b4","strokeWidth":1,"strokeDash":[3,3]},"encoding":{"x":{"field":"i","type":"quantitative","axis":null,"title":null},"y":{"field":"p","type":"quantitative","title":null},"detail":{"field":"s","type":"nominal"}}},
{"data":{"name":"ann"},"transform":[{"filter":"datum.g=='c'"}],"mark":{"type":"line","color":"#707070","strokeWidth":1,"strokeDash":[6,3]},"encoding":{"x":{"field":"i","type":"quantitative","axis":null,"title":null},"y":{"field":"p","type":"quantitative","title":null},"detail":{"field":"s","type":"nominal"}}},
{"data":{"name":"ann"},"transform":[{"filter":"datum.g=='h'"}],"mark":{"type":"line","color":"#555555","strokeWidth":1,"strokeDash":[2,2]},"encoding":{"x":{"field":"i","type":"quantitative","axis":null,"title":null},"y":{"field":"p","type":"quantitative","title":null}}},
{"data":{"name":"ann"},"transform":[{"filter":"datum.g=='l'"}],"mark":{"type":"line","color":"#9a9a9a","strokeWidth":1},"encoding":{"x":{"field":"i","type":"quantitative","axis":null,"title":null},"y":{"field":"p","type":"quantitative","title":null}}},
{"data":{"name":"bars"},"mark":{"type":"rule","strokeWidth":1},"encoding":{
"x":{"field":"i","type":"quantitative","axis":null,"title":null},
"y":{"field":"l","type":"quantitative","title":null},"y2":{"field":"h"},
"color":{"condition":{"test":"datum.c>=datum.o","value":"#3c78b4"},"value":"#a9a9a9"}}},
{"data":{"name":"bars"},"mark":{"type":"bar","width":1.8},"encoding":{
"x":{"field":"i","type":"quantitative","axis":null,"title":null},
"y":{"field":"o","type":"quantitative","title":null},"y2":{"field":"c"},
"color":{"condition":{"test":"datum.c>=datum.o","value":"#3c78b4"},"value":"#a9a9a9"}}},
{"data":{"name":"ann"},"transform":[{"filter":"datum.g=='b'"}],"mark":{"type":"line","color":"#4872b0","strokeWidth":2,"strokeDash":[4,3]},"encoding":{"x":{"field":"i","type":"quantitative","axis":null,"title":null},"y":{"field":"p","type":"quantitative","title":null}}},
{"data":{"name":"ann"},"transform":[{"filter":"datum.g=='r'"}],"mark":{"type":"line","color":"#ec3c6a","strokeWidth":2,"strokeDash":[4,3]},"encoding":{"x":{"field":"i","type":"quantitative","axis":null,"title":null},"y":{"field":"p","type":"quantitative","title":null}}},
{"data":{"name":"liq"},"mark":{"type":"text","fontSize":8.5,"color":"#8c8c8c","align":"center","baseline":"middle"},"encoding":{"x":{"field":"i","type":"quantitative","axis":null,"title":null},"y":{"field":"p","type":"quantitative","title":null},"text":{"field":"t"}}},
{"data":{"values":[{"t":"EURUSD,H1  1.0932 1.0933 1.0923 1.0923"}]},"mark":{"type":"text","fontSize":7,"color":"#6a7888","align":"left","baseline":"middle"},"encoding":{"x":{"datum":0.8},"y":{"datum":1.0985},"text":{"field":"t"}}},
{"data":{"name":"levels"},"mark":{"type":"bar","orient":"horizontal","height":9},"encoding":{
"x":{"datum":401.2},"x2":{"datum":410.8},
"y":{"field":"p","type":"quantitative","title":null},
"color":{"condition":[{"test":"datum.k=='r'","value":"#e0204a"},{"test":"datum.k=='cur'","value":"#6d7d8e"}],"value":"#99c740"}}},
{"data":{"name":"levels"},"mark":{"type":"text","fontSize":6.5,"color":"white","align":"left","baseline":"middle"},"encoding":{
"x":{"datum":401.7},
"y":{"field":"p","type":"quantitative","title":null},
"text":{"field":"p","type":"quantitative","format":".4f"}}}
]},
{"width":990,"height":52,
"layer":[
{"data":{"name":"seps"},"mark":{"type":"rule","strokeDash":[2,2],"color":"#a6adb5","strokeWidth":1},"encoding":{"x":{"field":"i","type":"quantitative","scale":{"domain":[-0.5,399],"nice":false,"zero":false,"padding":0},"axis":null,"title":null}}},
{"data":{"name":"bars"},"mark":{"type":"bar","width":1.7,"color":"#bcbcbc"},"encoding":{
"x":{"field":"i","type":"quantitative","axis":null,"title":null},
"y":{"field":"m","type":"quantitative","title":null,"scale":{"domain":[-0.0030,0.0069],"nice":false,"zero":false,"padding":0},"axis":{"orient":"right","values":[-0.00274,0,0.00605],"labelFontSize":6,"labelExpr":"datum.value==0?'0.00':format(datum.value,'.5f')"}},
"y2":{"datum":0}}},
{"data":{"name":"sig"},"mark":{"type":"line","color":"#e83c3c","strokeWidth":1,"interpolate":"monotone"},"encoding":{"x":{"field":"i","type":"quantitative","axis":null,"title":null},"y":{"field":"s","type":"quantitative","title":null}}},
{"data":{"name":"marrow"},"mark":{"type":"line","color":"#333333","strokeWidth":1,"strokeDash":[2,2]},"encoding":{"x":{"field":"i","type":"quantitative","axis":null,"title":null},"y":{"field":"s","type":"quantitative","title":null}}},
{"data":{"name":"marrow"},"transform":[{"filter":"datum.i>300"}],"mark":{"type":"point","shape":"triangle-right","filled":true,"color":"#111111","size":40,"opacity":1},"encoding":{"x":{"field":"i","type":"quantitative","axis":null,"title":null},"y":{"field":"s","type":"quantitative","title":null}}},
{"data":{"values":[{"t":"MACD(12,26,9) 0.00030 0.00064"}]},"mark":{"type":"text","fontSize":7,"color":"#6a7888","align":"left","baseline":"middle"},"encoding":{"x":{"datum":0.8},"y":{"datum":0.0058},"text":{"field":"t"}}}
]},
{"width":990,"height":47,
"layer":[
{"data":{"name":"seps"},"mark":{"type":"rule","strokeDash":[2,2],"color":"#a6adb5","strokeWidth":1},"encoding":{"x":{"field":"i","type":"quantitative","title":null,"scale":{"domain":[-0.5,399],"nice":false,"zero":false,"padding":0},"axis":{"values":[0,16,32,48,64,80,96,112,128,144,160,176,192,208,224,240,256,272,288,304],"labelExpr":"['28 Feb 2025','28 Feb 18:00','3 Mar 10:00','4 Mar 02:00','4 Mar 18:00','5 Mar 10:00','6 Mar 02:00','6 Mar 18:00','7 Mar 10:00','10 Mar 01:00','10 Mar 17:00','11 Mar 09:00','12 Mar 01:00','12 Mar 17:00','13 Mar 09:00','14 Mar 01:00','14 Mar 17:00','17 Mar 09:00','18 Mar 01:00','18 Mar 17:00'][round(datum.value/16)]","labelAlign":"left","labelFlush":false,"labelOverlap":false,"labelPadding":1}}}},
{"data":{"name":"bars"},"mark":{"type":"bar","width":2.1,"color":"#3b77b3"},"encoding":{
"x":{"field":"i","type":"quantitative","title":null},
"y":{"field":"v","type":"quantitative","title":null,"scale":{"domain":[0,2420],"nice":false,"padding":0},"axis":{"orient":"right","values":[0,2420],"format":"d","labelBaseline":{"condition":{"test":"datum.value==0","value":"bottom"},"value":"top"}}}}},
{"data":{"values":[{"t":"Volumes 125"}]},"mark":{"type":"text","fontSize":7,"color":"#6a7888","align":"left","baseline":"middle"},"encoding":{"x":{"datum":0.8},"y":{"datum":2060},"text":{"field":"t"}}}
]}
]
}
